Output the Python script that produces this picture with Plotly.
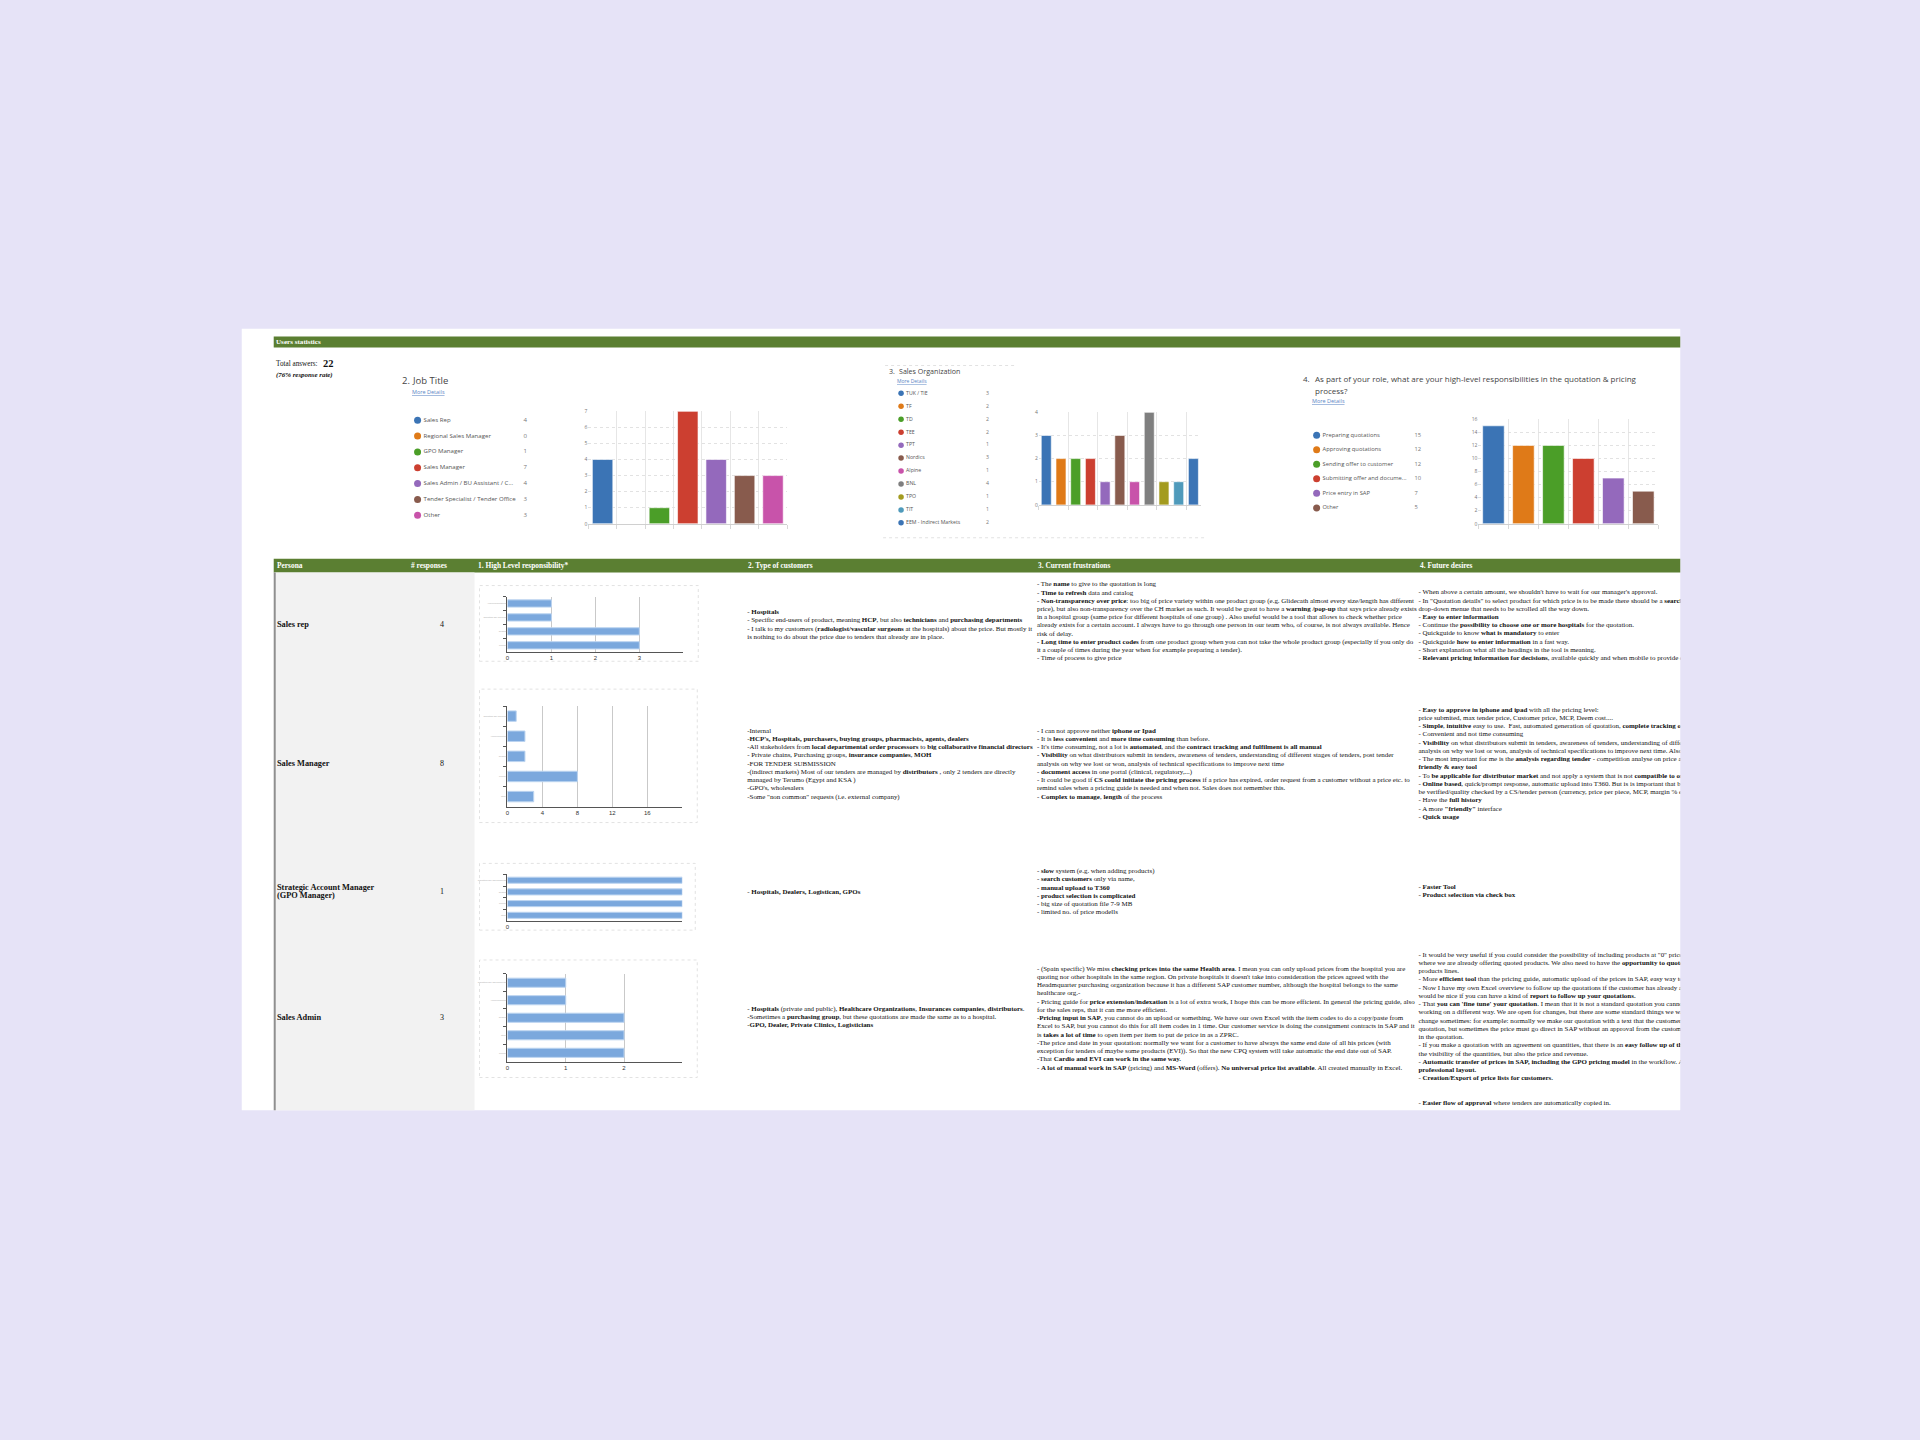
import plotly.graph_objects as go

W, H = 1920, 1440
BG = "#e6e3f7"
GREEN = "#5b7f32"
SERIF = "Liberation Serif, Times New Roman, serif"
SANS = "Open Sans, Noto Sans, sans-serif"
ARIAL = "Liberation Sans, Arial, sans-serif"
PALETTE = ["#3b74b5", "#df7a18", "#4b9e28", "#cc3f30", "#9469bc", "#885b4d",
           "#c853aa", "#7f7f7f", "#a39b1f", "#4f9abb", "#3b74b5"]

# ── data ────────────────────────────────────────────────────────────────────
TOTAL_ANSWERS = 22
RESPONSE_RATE = "76%"

JOB_TITLES = ["Sales Rep", "Regional Sales Manager", "GPO Manager", "Sales Manager",
              "Sales Admin / BU Assistant / C...", "Tender Specialist / Tender Office", "Other"]
JOB_COUNTS = [4, 0, 1, 7, 4, 3, 3]

SALES_ORGS = ["TUK / TIE", "TF", "TD", "TEE", "TPT", "Nordics", "Alpine", "BNL", "TPO", "TIT",
              "EEM - Indirect Markets"]
SALES_ORG_COUNTS = [3, 2, 2, 2, 1, 3, 1, 4, 1, 1, 2]

RESPONSIBILITIES = ["Preparing quotations", "Approving quotations", "Sending offer to customer",
                    "Submitting offer and docume...", "Price entry in SAP", "Other"]
RESPONSIBILITY_COUNTS = [15, 12, 12, 10, 7, 5]

PERSONAS = [["Sales rep"], ["Sales Manager"], ["Strategic Account Manager", "(GPO Manager)"], ["Sales Admin"]]
PERSONA_RESPONSES = [4, 8, 1, 3]

SR_RESP = ["Approving quotations", "Submitting offer and docs", "Sending", "Prepare"]
SR_RESP_COUNTS = [1, 1, 3, 3]
SM_RESP = ["Submitting offer and docs", "Approving quotes", "Sending", "Prepare", "Other"]
SM_RESP_COUNTS = [1, 2, 2, 8, 3]
GPO_RESP = ["Submitting offer and documents", "Sending", "Prepare", "Other"]
GPO_RESP_COUNTS = [1, 1, 1, 1]
SA_RESP = ["Submitting offer and documents", "Approving quotes", "Sending", "Other", "Prepare"]
SA_RESP_COUNTS = [1, 1, 2, 2, 2]

SR_CUSTOMERS = [
    "- <b>Hospitals</b>",
    "- Specific end-users of product, meaning <b>HCP</b>, but also <b>technicians</b> and <b>purchasing departments</b>",
    "- I talk to my customers (<b>radiologist/vascular surgeons</b> at the hospitals) about the price. But mostly it",
    "is nothing to do about the price due to tenders that already are in place.",
]
SR_FRUSTRATIONS = [
    "- The <b>name</b> to give to the quotation is long",
    "- <b>Time to refresh</b> data and catalog",
    "- <b>Non-transparency over price</b>: too big of price variety within one product group (e.g. Glidecath almost every size/length has different",
    "price), but also non-transparency over the CH market as such. It would be great to have a <b>warning /pop-up</b> that says price already exists",
    "in a hospital group (same price for different hospitals of one group) . Also useful would be a tool that allows to check whether price",
    "already exists for a certain account. I always have to go through one person in our team who, of course, is not always available. Hence",
    "risk of delay.",
    "- <b>Long time to enter product codes</b> from one product group when you can not take the whole product group (especially if you only do",
    "it a couple of times during the year when for example preparing a tender).",
    "- Time of process to give price",
]
SR_DESIRES = [
    "- When above a certain amount, we shouldn't have to wait for our manager's approval.",
    "- In \"Quotation details\" to select product for which price is to be made there should be a <b>search</b> function instead of a long",
    "drop-down menue that needs to be scrolled all the way down.",
    "- <b>Easy to enter information</b>",
    "- Continue the <b>possibility to choose one or more hospitals</b> for the quotation.",
    "- Quickguide to know <b>what is mandatory</b> to enter",
    "- Quickguide <b>how to enter information</b> in a fast way.",
    "- Short explanation what all the headings in the tool is meaning.",
    "- <b>Relevant pricing information for decisions</b>, available quickly and when mobile to provide customers",
]

SM_CUSTOMERS = [
    "-Internal",
    "-<b>HCP's, Hospitals, purchasers, buying groups, pharmacists, agents, dealers</b>",
    "-All stakeholders from <b>local departmental order processors</b> to <b>big collaborative financial directors</b>",
    "- Private chains, Purchasing groups, <b>insurance companies</b>, <b>MOH</b>",
    "-FOR TENDER SUBMISSION",
    "-(indirect markets) Most of our tenders are managed by <b>distributors</b> , only 2 tenders are directly",
    "managed by Terumo (Egypt and KSA )",
    "-GPO's, wholesalers",
    "-Some \"non common\" requests (i.e. external company)",
]
SM_FRUSTRATIONS = [
    "- I can not approve neither <b>iphone or Ipad</b>",
    "- It is <b>less convenient</b> and <b>more time consuming</b> than before.",
    "- It's time consuming, not a lot is <b>automated</b>, and the <b>contract tracking and fulfilment is all manual</b>",
    "- <b>Visibility</b> on what distributors submit in tenders, awareness of tenders, understanding of different stages of tenders, post tender",
    "analysis on why we lost or won, analysis of technical specifications to improve next time",
    "- <b>document access</b> in one portal (clinical, regulatory,...)",
    "- It could be good if <b>CS could initiate the pricing process</b> if a price has expired, order request from a customer without a price etc. to",
    "remind sales when a pricing guide is needed and when not. Sales does not remember this.",
    "- <b>Complex to manage</b>, <b>length</b> of the process",
]
SM_DESIRES = [
    "- <b>Easy to approve in iphone and ipad</b> with all the pricing level:",
    "price submited, max tender price, Customer price, MCP, Deem cost....",
    "- <b>Simple</b>, <b>intuitive</b> easy to use.  Fast, automated generation of quotation, <b>complete tracking of quotations</b>",
    "- Convenient and not time consuming",
    "- <b>Visibility</b> on what distributors submit in tenders, awareness of tenders, understanding of different stages of tenders",
    "analysis on why we lost or won, analysis of technical specifications to improve next time. Also competitor analysis",
    "- The most important for me is the <b>analysis regarding tender</b> - competition analyse on price and a user",
    "<b>friendly & easy tool</b>",
    "- To <b>be applicable for distributor market</b> and not apply a system that is not <b>compatible to our distributors</b>",
    "- <b>Online based</b>, quick/prompt response, automatic upload into T360. But is is important that before it should",
    "be verified/quality checked by a CS/tender person (currency, price per piece, MCP, margin % etc.)",
    "- Have the <b>full history</b>",
    "- A more <b>\"friendly\"</b> interface",
    "- <b>Quick usage</b>",
]

GPO_CUSTOMERS = ["- <b>Hospitals, Dealers, Logistican, GPOs</b>"]
GPO_FRUSTRATIONS = [
    "- <b>slow</b> system (e.g. when adding products)",
    "- <b>search customers</b> only via name,",
    "- <b>manual upload to T360</b>",
    "- <b>product selection is complicated</b>",
    "- big size of quotation file 7-9 MB",
    "- limited no. of price modells",
]
GPO_DESIRES = ["- <b>Faster Tool</b>", "- <b>Product selection via check box</b>"]

SA_CUSTOMERS = [
    "- <b>Hospitals</b> (private and public), <b>Healthcare Organizations</b>, <b>Insurances companies</b>, <b>distributors</b>.",
    "-Sometimes a <b>purchasing group</b>, but these quotations are made the same as to a hospital.",
    "-<b>GPO, Dealer, Private Clinics, Logisticians</b>",
]
SA_FRUSTRATIONS = [
    "- (Spain specific) We miss <b>checking prices into the same Health area</b>. I mean you can only upload prices from the hospital you are",
    "quoting nor other hospitals in the same region. On private hospitals it doesn't take into consideration the prices agreed with the",
    "Headmquarter purchasing organization because it has a different SAP customer number, although the hospital belongs to the same",
    "healthcare org.-",
    "- Pricing guide for <b>price extension/indexation</b> is a lot of extra work, I hope this can be more efficient. In general the pricing guide, also",
    "for the sales reps, that it can me more efficient.",
    "-<b>Pricing input in SAP</b>, you cannot do an upload or something. We have our own Excel with the item codes to do a copy/paste from",
    "Excel to SAP, but you cannot do this for all item codes in 1 time. Our customer service is doing the consignment contracts in SAP and it",
    "is <b>takes a lot of time</b> to open item per item to put de price in as a ZPRC.",
    "-The price and date in your quotation: normally we want for a customer to have always the same end date of all his prices (with",
    "exception for tenders of maybe some products (EVI)). So that the new CPQ system will take automatic the end date out of SAP.",
    "-That <b>Cardio and EVI can work in the same way.</b>",
    "- <b>A lot of manual work in SAP</b> (pricing) and <b>MS-Word</b> (offers). <b>No universal price list available</b>. All created manually in Excel.",
]
SA_DESIRES = [
    "- It would be very useful if you could consider the possibility of including products at \"0\" price in the quotations",
    "where we are already offering quoted products. We also need to have the <b>opportunity to quote</b> complete",
    "products lines.",
    "- More <b>efficient tool</b> than the pricing guide, automatic upload of the prices in SAP, easy way to follow up.",
    "- Now I have my own Excel overview to follow up the quotations if the customer has already accepted. It",
    "would be nice if you can have a kind of <b>report to follow up your quotations.</b>",
    "- That <b>you can 'fine tune' your quotation</b>. I mean that it is not a standard quotation you cannot change. Every",
    "working on a different way. We are open for changes, but there are some standard things we want to",
    "change sometimes: for example: normally we make our quotation with a text that the customer has to sign",
    "quotation, but sometimes the price must go direct in SAP without an approval from the customer of the prices",
    "in the quotation.",
    "- If you make a quotation with an agreement on quantities, that there is an <b>easy follow up of the agreement</b>",
    "the visibility of the quantities, but also the price and revenue.",
    "- <b>Automatic transfer of prices in SAP, including the GPO pricing model</b> in the workflow. A <b>nice and</b>",
    "<b>professional layout.</b>",
    "- <b>Creation/Export of price lists for customers.</b>",
    "",
    "",
    "- <b>Easier flow of approval</b> where tenders are automatically copied in.",
]

# ── layout helpers (pixel positions in the 1920x1440 page) ──────────────────
def px(x):
    return x / W


def py(y):
    return 1 - y / H


def ids(n):
    s = "" if n == 1 else str(n)
    return "x" + s, "y" + s, "xaxis" + s, "yaxis" + s


fig = go.Figure()
shapes, annotations, axes = [], [], {}


def rect(x0, y0, x1, y1, fill, line=None, dash="solid"):
    shapes.append(dict(type="rect", xref="paper", yref="paper", layer="below",
                       x0=px(x0), x1=px(x1), y0=py(y1), y1=py(y0), fillcolor=fill,
                       line=dict(width=1 if line else 0, color=line or fill, dash=dash)))


def hline(x0, x1, y, color, dash="dot"):
    shapes.append(dict(type="line", xref="paper", yref="paper", layer="below",
                       x0=px(x0), x1=px(x1), y0=py(y), y1=py(y),
                       line=dict(width=1, color=color, dash=dash)))


def note(x, y, text, size, color="#111", family=SERIF, anchor="left"):
    annotations.append(dict(xref="paper", yref="paper", x=px(x), y=py(y), text=text,
                            showarrow=False, xanchor=anchor, yanchor="middle", borderpad=0,
                            align=anchor if anchor != "center" else "center",
                            font=dict(size=size, color=color, family=family)))


# ── page background shapes ──────────────────────────────────────────────────
rect(240, 327, 1680, 1112, "white")
rect(272, 335, 1680, 346, GREEN)
rect(272, 558, 1680, 572, GREEN)
rect(273, 572, 473, 1112, "#f2f2f2")
shapes.append(dict(type="line", xref="paper", yref="paper", layer="below",
                   x0=px(273), x1=px(273), y0=py(572), y1=py(1112),
                   line=dict(width=2, color="#8f8f8f")))
hline(884, 1016, 364, "#e2e2e2")
hline(882, 1206, 537, "#e2e2e2")

# ── survey bar charts (Forms style) ─────────────────────────────────────────
def form_chart(n, cats, vals, colors, plot, ymax, dtick, bar_w):
    x0, y0, x1, y1 = plot
    xid, yid, xk, yk = ids(n)
    fig.add_trace(go.Bar(x=cats, y=vals, width=bar_w, xaxis=xid, yaxis=yid,
                         marker=dict(color=colors, line=dict(color="rgba(255,255,255,0.6)", width=1))))
    axes[xk] = dict(domain=[px(x0), px(x1)], anchor=yid, type="category", tickson="boundaries",
                    showgrid=True, gridcolor="#e6e6e6", showticklabels=False, ticks="outside",
                    ticklen=4, tickcolor="#d8d8d8", showline=True, linecolor="#d0d0d0",
                    fixedrange=True)
    axes[yk] = dict(domain=[py(y1), py(y0)], anchor=xid, range=[0, ymax], dtick=dtick,
                    showgrid=True, gridcolor="#e2e2e2", griddash="dot", zeroline=False,
                    ticks="", tickfont=dict(size=5, color="#777", family=SANS), fixedrange=True)


form_chart(1, JOB_TITLES, JOB_COUNTS, PALETTE[:7], (587, 410, 786, 523), 7, 1, 0.72)
form_chart(2, SALES_ORGS, SALES_ORG_COUNTS, PALETTE[:11], (1038, 411, 1200, 504), 4, 1, 0.68)
form_chart(3, RESPONSIBILITIES, RESPONSIBILITY_COUNTS, PALETTE[:6], (1478, 418, 1658, 523), 16, 2, 0.72)

# ── per-persona horizontal bar charts ───────────────────────────────────────
def mini_chart(n, cats, vals, box, plot, xmax, tickvals):
    rect(*box, "white", line="#e2e2e2", dash="dot")
    x0, y0, x1, y1 = plot
    xid, yid, xk, yk = ids(n)
    fig.add_trace(go.Bar(x=vals, y=cats, orientation="h", width=0.52, xaxis=xid, yaxis=yid,
                         marker=dict(color="#7ba8dd", line=dict(color="#bcd4f0", width=1))))
    axes[xk] = dict(domain=[px(x0), px(x1)], anchor=yid, range=[0, xmax], tickvals=tickvals,
                    showgrid=True, gridcolor="#c9c9c9", showline=True, linecolor="#555",
                    zeroline=False, ticks="", tickfont=dict(size=6, color="#333", family=ARIAL),
                    fixedrange=True)
    axes[yk] = dict(domain=[py(y1), py(y0)], anchor=xid, type="category", autorange="reversed",
                    tickson="boundaries", ticks="outside", ticklen=3, tickcolor="#555",
                    showline=True, linecolor="#555", showgrid=False,
                    tickfont=dict(size=2, color="#aaa", family=ARIAL), fixedrange=True)


mini_chart(4, SR_RESP, SR_RESP_COUNTS, (478, 585, 697, 661), (506, 596, 682, 652), 4, [0, 1, 2, 3])
mini_chart(5, SM_RESP, SM_RESP_COUNTS, (478, 689, 696, 823), (506, 706, 681, 807), 20, [0, 4, 8, 12, 16])
mini_chart(6, GPO_RESP, GPO_RESP_COUNTS, (478, 864, 694, 931), (506, 875, 681, 922), 1, [0])
mini_chart(7, SA_RESP, SA_RESP_COUNTS, (478, 961, 696, 1079), (506, 975, 681, 1063), 3, [0, 1, 2])

# ── text overlay in page pixels, clipped at the card edge ───────────────────
OV = 8
ovx, ovy, ovxk, ovyk = ids(OV)
axes[ovxk] = dict(domain=[px(240), px(1680)], range=[240, 1680], visible=False, fixedrange=True)
axes[ovyk] = dict(domain=[py(1112), py(327)], range=[1112, 327], visible=False, fixedrange=True)
LINE_H = 8.27
BODY_SIZE = 6.95


def text_block(x, y0, lines, size=BODY_SIZE, family=SERIF, color="#111", step=LINE_H):
    fig.add_trace(go.Scatter(x=[x] * len(lines), y=[y0 + i * step for i in range(len(lines))],
                             text=lines, mode="text", textposition="middle right",
                             textfont=dict(size=size, family=family, color=color),
                             xaxis=ovx, yaxis=ovy, hoverinfo="skip", cliponaxis=True))


def legend_list(dot_x, text_x, val_x, y0, step, labels, counts, dot, size):
    ys = [y0 + i * step for i in range(len(labels))]
    fig.add_trace(go.Scatter(x=[dot_x] * len(labels), y=ys, mode="markers",
                             marker=dict(size=dot, color=PALETTE[:len(labels)]),
                             xaxis=ovx, yaxis=ovy, hoverinfo="skip"))
    text_block(text_x, y0, labels, size=size, family=SANS, color="#555", step=step)
    text_block(val_x, y0, [str(c) for c in counts], size=size, family=SANS, color="#777", step=step)


legend_list(416, 422, 522, 419, 15.9, JOB_TITLES, JOB_COUNTS, 7, 6.1)
legend_list(900, 905, 985, 392, 13, SALES_ORGS, SALES_ORG_COUNTS, 5.5, 5.2)
legend_list(1316, 1322, 1414, 434, 14.6, RESPONSIBILITIES, RESPONSIBILITY_COUNTS, 7, 5.8)

# table body text
COL_X = {"customers": 746, "frustrations": 1036, "desires": 1418}
BLOCKS = [
    (SR_CUSTOMERS, SR_FRUSTRATIONS, SR_DESIRES, (612, 584, 592)),
    (SM_CUSTOMERS, SM_FRUSTRATIONS, SM_DESIRES, (731, 731, 710)),
    (GPO_CUSTOMERS, GPO_FRUSTRATIONS, GPO_DESIRES, (893, 872, 888)),
    (SA_CUSTOMERS, SA_FRUSTRATIONS, SA_DESIRES, (1010, 970, 956)),
]
for cust, frus, des, (yc, yf, yd) in BLOCKS:
    text_block(COL_X["customers"], yc, cust)
    text_block(COL_X["frustrations"], yf, frus)
    text_block(COL_X["desires"], yd, des)

# ── static labels ───────────────────────────────────────────────────────────
note(273, 340.5, "<b>Users statistics</b>", 7.1, "white")
note(273, 363, "Total answers:", 7.2)
note(320, 362, f"<b>{TOTAL_ANSWERS}</b>", 10.5)
note(273, 374, f"<em>({RESPONSE_RATE} response rate)</em>", 6.9)

note(399, 379, "2.", 9.5, "#444", SANS)
note(409, 379, "Job Title", 9.5, "#444", SANS)
note(409, 391, "<u>More Details</u>", 5.5, "#5b86c5", SANS)
note(887, 370, "3.", 7.1, "#444", SANS)
note(897, 370, "Sales Organization", 7.1, "#444", SANS)
note(895, 380, "<u>More Details</u>", 5, "#5b86c5", SANS)
note(1301, 377, "4.", 8, "#444", SANS)
note(1313, 377, "As part of your role, what are your high-level responsibilities in the quotation & pricing",
     8, "#444", SANS)
note(1313, 389, "process?", 8, "#444", SANS)
note(1310, 400, "<u>More Details</u>", 5.5, "#5b86c5", SANS)

HEADERS = [(274, "Persona"), (408, "# responses"), (475, "1. High Level responsibility*"),
           (746, "2. Type of customers"), (1036, "3. Current frustrations"), (1418, "4. Future desires")]
for hx, htext in HEADERS:
    note(hx, 565, f"<b>{htext}</b>", 7.4, "white")

ROW_Y = [624, 764, 892, 1019]
for lines, count, ry in zip(PERSONAS, PERSONA_RESPONSES, ROW_Y):
    top = ry - (len(lines) - 1) * 8.6 / 2
    for i, line in enumerate(lines):
        note(274, top + i * 8.6, f"<b>{line}</b>", 8.3)
    note(440, ry, str(count), 8, anchor="center")

fig.update_layout(
    width=W, height=H, margin=dict(l=0, r=0, t=0, b=0),
    paper_bgcolor=BG, plot_bgcolor="rgba(0,0,0,0)", showlegend=False,
    shapes=shapes, annotations=annotations, **axes,
)
fig.write_html(
    "out.html",
    config={"displayModeBar": False},
    post_script=f"document.body.style.margin='0';document.body.style.background='{BG}';",
)
